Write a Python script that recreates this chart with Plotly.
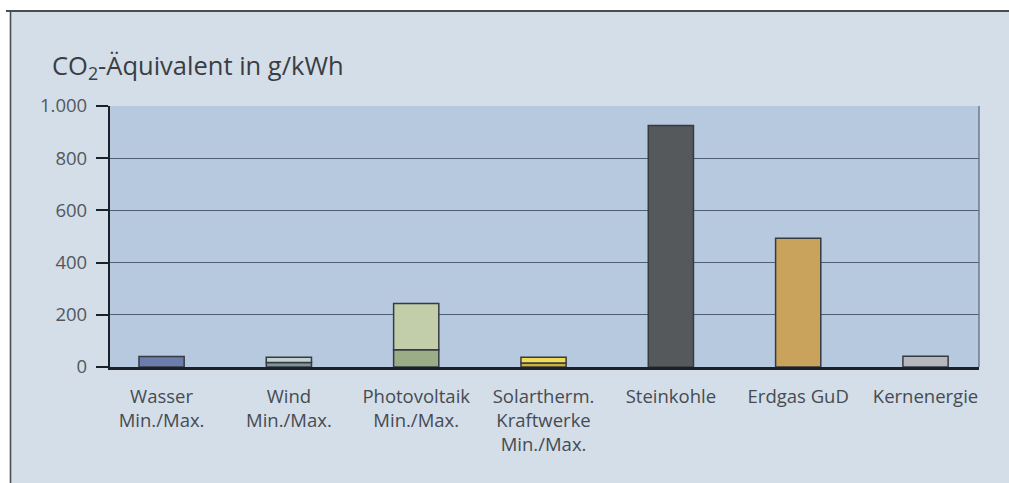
import numpy as np
import plotly.graph_objects as go

# Lebenszyklus-Emissionen je Erzeugungsart (CO2-Äquivalent in g/kWh)
kategorien = [
    "Wasser<br>Min./Max.",
    "Wind<br>Min./Max.",
    "Photovoltaik<br>Min./Max.",
    "Solartherm.<br>Kraftwerke<br>Min./Max.",
    "Steinkohle",
    "Erdgas GuD",
    "Kernenergie",
]
# untere Werte (Minimum bzw. Einzelwert)
werte_min = [40, 17, 66, 15, 925, 493, 41]
# obere Werte (Maximum), None bei Einzelwerten
werte_max = [None, 37, 243, 37, None, None, None]

farben_min = ["#6c7cad", "#7e959b", "#9bad87", "#cdb03e", "#55595b", "#c9a35b", "#b4b8bc"]
farben_max = ["#6c7cad", "#c3d0d1", "#c2ceaa", "#f0da58", "#55595b", "#c9a35b", "#b4b8bc"]

y_ticks = [0, 200, 400, 600, 800, 1000]

x_pos = np.arange(len(kategorien))
unten = np.array(werte_min, dtype=float)
oben = np.array([np.nan if v is None else v for v in werte_max], dtype=float)
oben_hoehe = oben - unten

umriss = dict(color="#363b42", width=1.5)
breite = 0.355

fig = go.Figure()
fig.add_trace(go.Bar(
    x=x_pos, y=unten, width=breite,
    marker=dict(color=farben_min, line=umriss),
    showlegend=False, hoverinfo="skip",
))
fig.add_trace(go.Bar(
    x=x_pos, y=oben_hoehe, base=unten, width=breite,
    marker=dict(color=farben_max, line=umriss),
    showlegend=False, hoverinfo="skip",
))

W, H = 1009, 483
L, R, T, B = 110, 30, 106, 116
pw, ph = W - L - R, H - T - B


def px_x(p):
    return (p - L) / pw


def px_y(p):
    return (H - B - p) / ph


panel = "#d3dee9"
shapes = [
    # weißer Rand oben und links
    dict(type="rect", xref="paper", yref="paper", x0=px_x(-10), x1=px_x(W + 10),
         y0=px_y(11), y1=px_y(-10), fillcolor="white", line=dict(width=0)),
    dict(type="rect", xref="paper", yref="paper", x0=px_x(-10), x1=px_x(10),
         y0=px_y(H + 10), y1=px_y(-10), fillcolor="white", line=dict(width=0)),
    # dunkle Rahmenlinien des Kastens
    dict(type="line", xref="paper", yref="paper", x0=px_x(6), x1=px_x(W + 10),
         y0=px_y(11), y1=px_y(11), line=dict(color="#46504e", width=2.2)),
    dict(type="line", xref="paper", yref="paper", x0=px_x(10.5), x1=px_x(10.5),
         y0=px_y(11), y1=px_y(H + 10), line=dict(color="#46504e", width=1.6)),
    # rechter Rand der Zeichenfläche
    dict(type="line", xref="paper", yref="paper", x0=1, x1=1, y0=0, y1=1,
         line=dict(color="#6b7a8c", width=1.5)),
]

fig.update_layout(
    width=W, height=H,
    margin=dict(l=L, r=R, t=T, b=B, pad=0),
    paper_bgcolor=panel,
    plot_bgcolor="#b7c9df",
    barmode="overlay",
    separators=",.",
    font=dict(family="Open Sans, Noto Sans, sans-serif", color="#454a50"),
    shapes=shapes,
    xaxis=dict(
        range=[-0.405, 6.42],
        tickmode="array", tickvals=x_pos, ticktext=kategorien,
        showgrid=False, zeroline=False,
        showline=True, linecolor="#1c2027", linewidth=2.5,
        ticks="", tickfont=dict(size=18.5, color="#464b52"),
        ticklabelstandoff=11,
    ),
    yaxis=dict(
        range=[0, 1000],
        tickmode="array", tickvals=y_ticks, tickformat=",d",
        showgrid=True, gridcolor="#4e5f74", gridwidth=1.3,
        zeroline=False,
        showline=True, linecolor="#1c2027", linewidth=2.2,
        ticks="outside", ticklen=12, tickwidth=2, tickcolor="#1c2027",
        tickfont=dict(size=18.5, color="#53575c"),
        ticklabelstandoff=5,
    ),
    annotations=[
        dict(text="CO<sub>2</sub>-Äquivalent in g/kWh", xref="paper", yref="paper",
             x=px_x(50), y=px_y(66), xanchor="left", yanchor="middle",
             showarrow=False, font=dict(size=25.5, color="#3a3d42")),
    ],
)

fig.write_html("out.html")
